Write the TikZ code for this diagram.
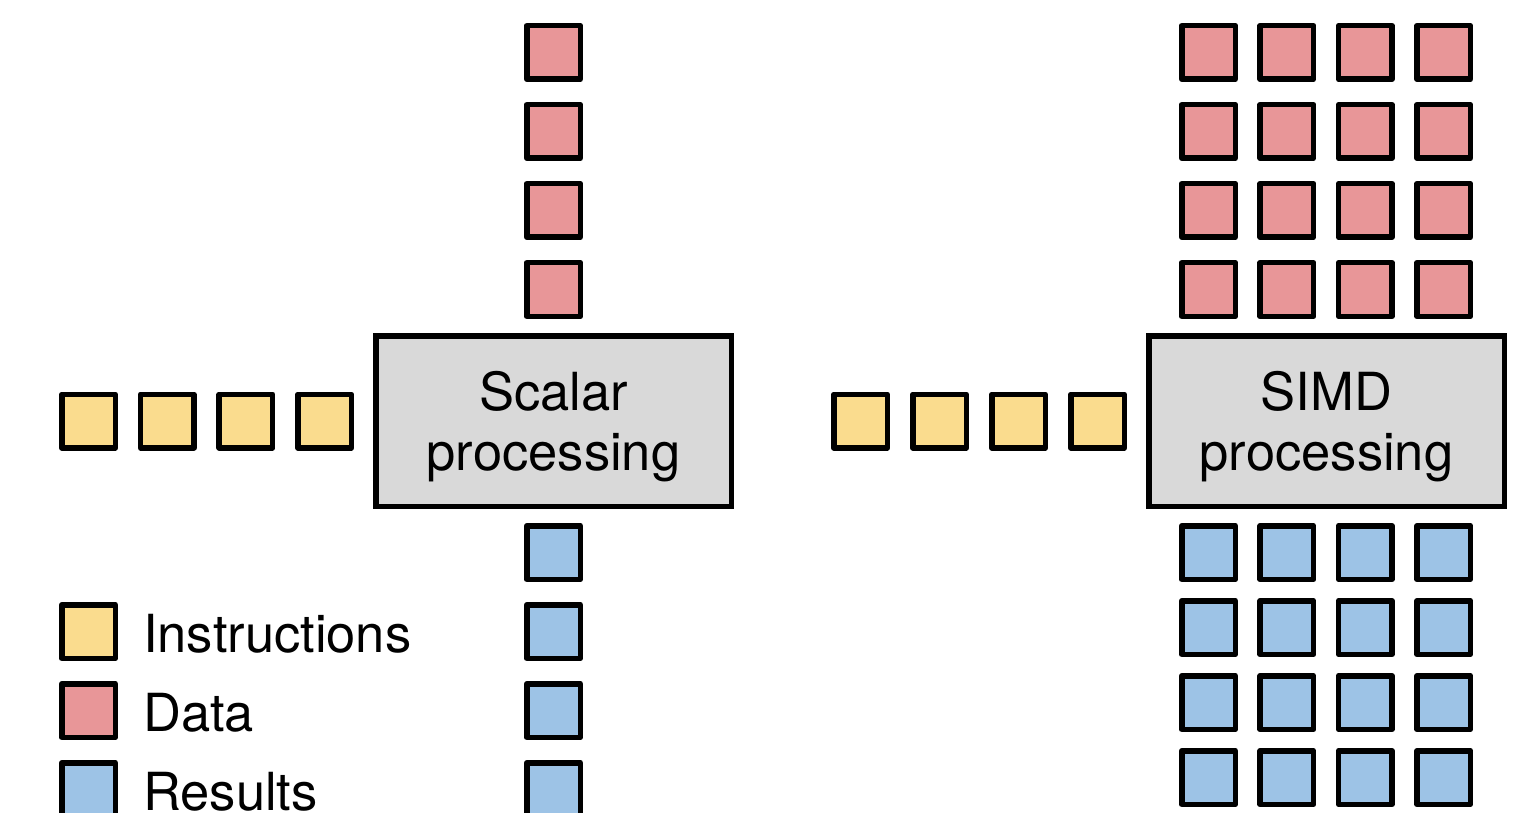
\documentclass[tikz,border=0pt]{standalone}
\usepackage{fontspec}
\setmainfont{TeX Gyre Heros}
\definecolor{instrc}{HTML}{FADC8E}
\definecolor{datac}{HTML}{E89698}
\definecolor{resc}{HTML}{9DC3E6}
\definecolor{procc}{HTML}{D9D9D9}
\tikzset{
  cell/.style={draw=black, line width=5.5pt, line join=round, inner sep=0pt,
    minimum size=53.5pt, outer sep=0pt},
  instr/.style={cell, fill=instrc},
  datum/.style={cell, fill=datac},
  result/.style={cell, fill=resc},
  proc/.style={draw=black, line width=5.5pt, fill=procc, minimum width=355.5pt,
    minimum height=170.5pt, inner sep=0pt},
  proctext/.style={align=center, inner sep=0pt,
    font=\fontsize{52.5}{60}\selectfont},
  legtext/.style={anchor=base west, inner sep=0pt, font=\fontsize{52.5}{60}\selectfont}
}
\begin{document}
\begin{tikzpicture}[x=1pt,y=-1pt]
\useasboundingbox (0,0) rectangle (1527,813);

% scalar processing unit
\node[proc] (scalar) at (553.5,421) {};
\node[proctext] (scalart) at (553.5,427) {Scalar\\processing};
\foreach \i in {0,...,3} {
  \node[datum]  (sd\i) at (553.5,{52.5+79*\i}) {};
  \node[result] (sr\i) at (553.5,{552.5+79*\i}) {};
  \node[instr]  (si\i) at ({88.5+78.7*\i},421) {};
}

% SIMD processing unit
\node[proc] (simd) at (1326.5,421) {};
\node[proctext] (simdt) at (1326.5,427) {SIMD\\processing};
\foreach \i in {0,...,3} {
  \node[instr] (mi\i) at ({860.5+79*\i},421) {};
  \foreach \j in {0,...,3} {
    \node[datum]  (md\i\j) at ({1208.5+78.4*\j},{52.5+79*\i}) {};
    \node[result] (mr\i\j) at ({1208.5+78.4*\j},{552.5+75*\i}) {};
  }
}

% legend
\node[instr]  (li) at (88.5,631.5) {};
\node[datum]  (ld) at (88.5,710.5) {};
\node[result] (lr) at (88.5,789.5) {};
\node[legtext] (lit) at (143,652) {Instructions};
\node[legtext] (ldt) at (143,731) {Data};
\node[legtext] (lrt) at (143,810) {Results};
\end{tikzpicture}
\end{document}
